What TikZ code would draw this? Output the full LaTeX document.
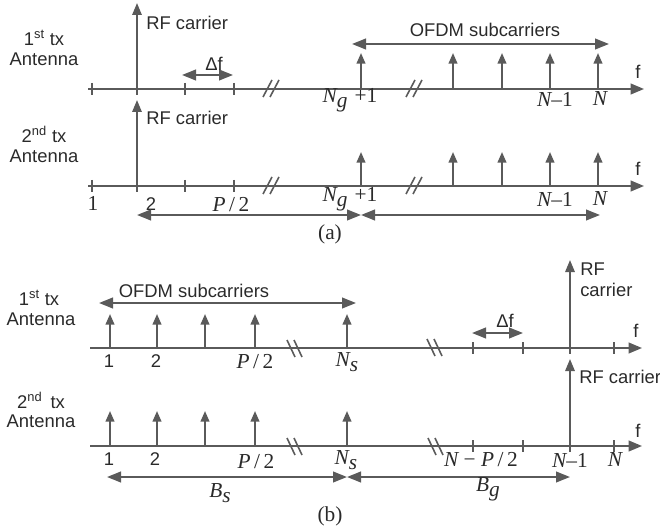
\documentclass[tikz,border=0pt]{standalone}
\usepackage{fontspec}
\setmainfont{Liberation Sans}
\newfontfamily\tms{Liberation Serif}
\usetikzlibrary{arrows.meta}
\definecolor{lc}{HTML}{5A5A5A}
\definecolor{tc}{HTML}{2A2A2A}
\newcommand\mi[1]{{\itshape #1}}
\newcommand\lsub[2]{\mi{#1}\raisebox{-0.5ex}{\mi{#2}}}
\begin{document}
\begin{tikzpicture}[x=0.75pt,y=-0.75pt,
  ln/.style={draw=lc, line width=1.5pt},
  axisln/.style={ln, -{Triangle[length=10pt,width=8pt]}},
  sub/.style={ln, -{Triangle[length=8pt,width=6.5pt]}},
  carrier/.style={ln, -{Triangle[length=9pt,width=7pt]}},
  span/.style={ln, {Triangle[length=10.5pt,width=8pt]}-{Triangle[length=10.5pt,width=8pt]}},
  tickln/.style={draw=lc, line width=2pt},
  brk/.style={draw=lc, line width=1.2pt},
  sans/.style={font=\fontsize{13.8}{15}\selectfont, text=tc, inner sep=0pt},
  ser/.style={font=\fontsize{16}{18}\selectfont\tms, text=tc, inner sep=0pt},
  captxt/.style={font=\fontsize{16}{18}\selectfont\tms, text=tc, inner sep=0pt},
]
\useasboundingbox (0,0) rectangle (660,531);

%================ panel (a), antenna 1 =================
\coordinate (A1s) at (88,89); \coordinate (A1e) at (644,89);
\draw[axisln] (A1s) -- (A1e);
\foreach \x in {92,137,185,234} \draw[tickln] (\x,83) -- (\x,95);
\draw[brk] (263,97) -- (272,80) (270,97) -- (279,80);
\draw[brk] (406,97) -- (415,80) (413,97) -- (422,80);
\coordinate (A1rf0) at (137,89); \coordinate (A1rf1) at (137,3);
\draw[carrier] (A1rf0) -- (A1rf1);
\node[sans, anchor=west] (A1rfl) at (146,23) {RF carrier};
\coordinate (A1d0) at (182,75); \coordinate (A1d1) at (233,75);
\draw[span] (A1d0) -- (A1d1);
\node[sans] (A1dl) at (214,64) {Δf};
\foreach \x [count=\i] in {361,453,502,550,598}{
  \coordinate (A1b\i) at (\x,89); \coordinate (A1t\i) at (\x,53);
  \draw[sub] (A1b\i) -- (A1t\i);}
\coordinate (A1o0) at (352,44); \coordinate (A1o1) at (609,44);
\draw[span] (A1o0) -- (A1o1);
\node[sans] (A1ol) at (485,30) {OFDM subcarriers};
\node[sans] (A1f) at (638,72) {f};
\node[sans] (A1ant1) at (44,38) {1\textsuperscript{st} tx};
\node[sans] (A1ant2) at (44,59) {Antenna};
\node[ser] (A1n1) at (350,100) {\lsub{N}{g}\,\,+1};
\node[ser] (A1n2) at (555,99) {\mi{N}–1};
\node[ser] (A1n3) at (600,99) {\mi{N}};

%================ panel (a), antenna 2 =================
\coordinate (A2s) at (88,186); \coordinate (A2e) at (644,186);
\draw[axisln] (A2s) -- (A2e);
\foreach \x in {92,137,185,234} \draw[tickln] (\x,180) -- (\x,192);
\draw[brk] (263,194) -- (272,177) (270,194) -- (279,177);
\draw[brk] (406,194) -- (415,177) (413,194) -- (422,177);
\coordinate (A2rf0) at (137,186); \coordinate (A2rf1) at (137,100);
\draw[carrier] (A2rf0) -- (A2rf1);
\node[sans, anchor=west] (A2rfl) at (146,118) {RF carrier};
\foreach \x [count=\i] in {361,453,502,550,598}{
  \coordinate (A2b\i) at (\x,186); \coordinate (A2t\i) at (\x,152);
  \draw[sub] (A2b\i) -- (A2t\i);}
\node[sans] (A2f) at (638,169) {f};
\node[sans] (A2ant1) at (44,134) {2\textsuperscript{nd} tx};
\node[sans] (A2ant2) at (44,156) {Antenna};
\node[ser] (A2l1) at (93,203) {1};
\node[sans] (A2l2) at (151,204) {2};
\node[ser] (A2l3) at (231,205) {\mi{P}\,/\,2};
\node[ser] (A2n1) at (350,199) {\lsub{N}{g}\,\,+1};
\node[ser] (A2n2) at (555,199) {\mi{N}–1};
\node[ser] (A2n3) at (600,199) {\mi{N}};
\coordinate (A2w0) at (137,215); \coordinate (A2wm) at (361,215); \coordinate (A2w1) at (600,215);
\draw[span] (A2w0) -- (A2wm);
\draw[span] (A2wm) -- (A2w1);
\node[captxt] (capa) at (330,234) {(a)};

%================ panel (b), antenna 1 =================
\coordinate (B1s) at (90,348); \coordinate (B1e) at (642,348);
\draw[axisln] (B1s) -- (B1e);
\foreach \x in {473,523,570,614} \draw[tickln] (\x,342) -- (\x,354);
\draw[brk] (287,340) -- (295,357) (294,340) -- (302,357);
\draw[brk] (427,339) -- (435,356) (434,339) -- (442,356);
\foreach \x [count=\i] in {110,157,205,255,347}{
  \coordinate (B1b\i) at (\x,348); \coordinate (B1t\i) at (\x,314);
  \draw[sub] (B1b\i) -- (B1t\i);}
\coordinate (B1o0) at (99,303); \coordinate (B1o1) at (356,303);
\draw[span] (B1o0) -- (B1o1);
\node[sans] (B1ol) at (194,291) {OFDM subcarriers};
\node[sans] (B1ant1) at (39,298) {1\textsuperscript{st} tx};
\node[sans] (B1ant2) at (41,319) {Antenna};
\coordinate (B1rf0) at (570,348); \coordinate (B1rf1) at (570,260);
\draw[carrier] (B1rf0) -- (B1rf1);
\node[sans, anchor=west] (B1rfl1) at (580,269) {RF};
\node[sans, anchor=west] (B1rfl2) at (580,290) {carrier};
\coordinate (B1d0) at (472,333); \coordinate (B1d1) at (523,333);
\draw[span] (B1d0) -- (B1d1);
\node[sans] (B1dl) at (505,321) {Δf};
\node[sans] (B1f) at (636,331) {f};
\node[sans] (B1l1) at (109,361) {1};
\node[sans] (B1l2) at (156,361) {2};
\node[ser] (B1l3) at (255,362) {\mi{P}\,/\,2};
\node[ser] (B1l4) at (347,362) {\lsub{N}{s}};

%================ panel (b), antenna 2 =================
\coordinate (B2s) at (90,446); \coordinate (B2e) at (642,446);
\draw[axisln] (B2s) -- (B2e);
\foreach \x in {473,523,570,614} \draw[tickln] (\x,440) -- (\x,452);
\draw[brk] (287,438) -- (295,455) (294,438) -- (302,455);
\draw[brk] (428,438) -- (436,455) (435,438) -- (443,455);
\foreach \x [count=\i] in {110,157,205,255,347}{
  \coordinate (B2b\i) at (\x,446); \coordinate (B2t\i) at (\x,411);
  \draw[sub] (B2b\i) -- (B2t\i);}
\coordinate (B2rf0) at (570,446); \coordinate (B2rf1) at (570,359);
\draw[carrier] (B2rf0) -- (B2rf1);
\node[sans, anchor=west] (B2rfl) at (579,377) {RF carrier};
\node[sans] (B2f) at (638,431) {f};
\node[sans] (B2ant1) at (41,400) {2\textsuperscript{nd}\, tx};
\node[sans] (B2ant2) at (41,421) {Antenna};
\node[sans] (B2l1) at (109,459) {1};
\node[sans] (B2l2) at (155,459) {2};
\node[ser] (B2l3) at (256,462) {\mi{P}\,/\,2};
\node[ser] (B2l4) at (346,460) {\lsub{N}{s}};
\node[ser] (B2l5) at (481,460) {\mi{N} − \mi{P}\,/\,2};
\node[ser] (B2l6) at (570,460) {\mi{N}–1};
\node[ser] (B2l7) at (615,460) {\mi{N}};
\coordinate (B2w0) at (107,477); \coordinate (B2wm) at (347,477); \coordinate (B2w1) at (570,477);
\draw[span] (B2w0) -- (B2wm);
\draw[span] (B2wm) -- (B2w1);
\node[ser] (B2bs) at (220,493) {\lsub{B}{s}};
\node[ser] (B2bg) at (488,489) {\lsub{B}{g}};
\node[captxt] (capb) at (330,516) {(b)};
\end{tikzpicture}
\end{document}
